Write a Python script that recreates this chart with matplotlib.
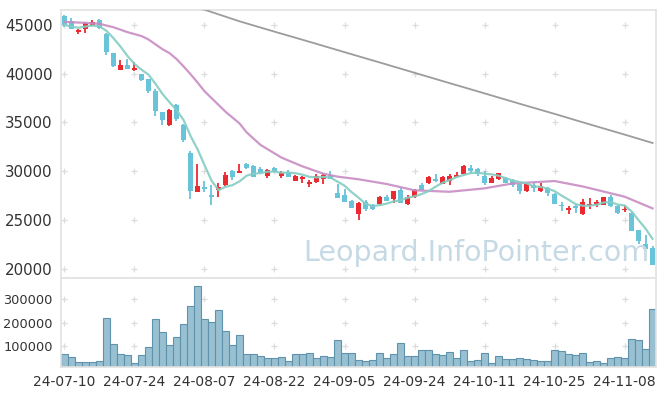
import numpy as np
import pandas as pd
import matplotlib
matplotlib.use('Agg')
import matplotlib.pyplot as plt

dateLabels = ['24-07-10', '24-07-24', '24-08-07', '24-08-22', '24-09-05',
              '24-09-24', '24-10-11', '24-10-25', '24-11-08']

opens = [45900, 45400, 44300, 44600, 44950, 45500, 44100, 42100, 40400, 40900,
         40350, 40000, 39450, 38250, 36050, 34700, 36800, 34750, 31900, 27900,
         28400, 27550, 28100, 28600, 30050, 29850, 30750, 30550, 30250, 29550,
         30300, 29550, 29900, 29050, 29200, 28650, 28900, 29200, 29600, 27800,
         27550, 26950, 25650, 26900, 26550, 26650, 27400, 27150, 28100, 26650,
         27350, 28600, 28850, 29200, 28700, 29050, 29450, 29750, 30300, 30200,
         29550, 28800, 29200, 29350, 29000, 28650, 28000, 28600, 28000, 28250,
         27700, 26550, 26000, 26400, 25650, 26500, 26550, 26550, 27400, 26400,
         26050, 25750, 24000, 22600, 22150]
highs = [46000, 45700, 44600, 45250, 45500, 45550, 44200, 42100, 41400, 41500,
         41200, 40000, 39500, 38400, 36100, 36400, 36900, 34800, 32100, 30750,
         29000, 28550, 28800, 29950, 30100, 30700, 30800, 30600, 30400, 30200,
         30400, 30050, 30100, 29600, 29500, 29150, 29700, 29800, 30050, 28700,
         28200, 27100, 26850, 27050, 26600, 27500, 27550, 28000, 28250, 27550,
         28150, 28850, 29500, 29700, 29500, 29750, 29900, 30650, 30650, 30300,
         30050, 29550, 29850, 29450, 29200, 28700, 28750, 28750, 28750, 28400,
         27750, 26850, 26400, 26650, 27150, 27250, 27050, 27400, 27550, 26550,
         26550, 25800, 24000, 23450, 22350]
lows = [44800, 44600, 44050, 44200, 44900, 44550, 41900, 40700, 40350, 40450,
        40300, 39200, 38000, 35700, 34750, 34650, 35100, 32950, 27200, 27850,
        27850, 26550, 27400, 28500, 29100, 29800, 30200, 29400, 29800, 29300,
        29950, 29300, 29400, 29000, 28750, 28350, 28850, 28650, 29200, 27250,
        26850, 26200, 25000, 25950, 26000, 26500, 26950, 26750, 26700, 26550,
        27250, 28050, 28650, 28950, 28650, 28600, 29400, 29700, 29850, 29550,
        28600, 28750, 29150, 28750, 28350, 27700, 27850, 27850, 27850, 27500,
        26600, 25950, 25600, 25750, 25550, 26150, 26350, 26500, 26350, 25650,
        25850, 23850, 22600, 22000, 20400]
closes = [45000, 44600, 44500, 45200, 45300, 44650, 42250, 40750, 40900, 40500,
          40550, 39300, 38250, 36200, 35300, 36300, 35350, 33200, 28000, 28500,
          28150, 27400, 28350, 29600, 29400, 30050, 30300, 29450, 29850, 30150,
          30050, 29800, 29450, 29550, 29400, 28950, 29550, 29650, 29250, 27300,
          26900, 26250, 26800, 26150, 26100, 27350, 27000, 27950, 26750, 27400,
          28100, 28100, 29450, 29050, 29400, 29500, 29600, 30500, 30050, 29750,
          28800, 29350, 29800, 28800, 28550, 28000, 28700, 28250, 28500, 27750,
          26650, 26400, 26200, 26200, 26900, 26650, 26900, 27350, 26400, 25700,
          26150, 23900, 22850, 22050, 20450]
volumes = [64500, 51700, 30300, 30300, 30300, 35900, 218000, 107000, 64500, 60200,
           26000, 60200, 94400, 214000, 158000, 103000, 137000, 193000, 270000, 355000,
           214000, 201000, 252000, 163000, 103000, 146000, 64500, 64500, 56000, 47400,
           47400, 51700, 34600, 64500, 64500, 68800, 47400, 56000, 51700, 124000,
           68800, 68800, 38800, 34600, 38800, 68800, 47400, 64500, 111000, 56000,
           56000, 81600, 81600, 64500, 60200, 73000, 47400, 81600, 34600, 38800,
           68800, 26000, 56000, 43200, 43200, 47400, 43200, 38800, 34600, 34600,
           81600, 77300, 64500, 60200, 68800, 30300, 34600, 26000, 47400, 51700,
           47400, 129000, 124000, 86000, 257000]

# 20-day average (it starts with data before 07-10)
ma20Index = [0, 3, 5, 7, 9, 11, 12, 13, 14, 15, 16, 17, 18, 19, 20, 21, 23,
             25, 26, 28, 31, 34, 37, 39, 42, 46, 50, 55, 60, 64, 70, 74, 80, 84]
ma20Values = [45300, 45200, 45100, 44750, 44250, 43850, 43500, 43000, 42500,
              42100, 41500, 40750, 39950, 39100, 38200, 37500, 36100, 34900,
              34000, 32700, 31400, 30500, 29750, 29450, 29180, 28700, 28050,
              27900, 28250, 28750, 29000, 28450, 27400, 26200]

# long moving average at a few candles
longMaIndex = [17, 20, 25, 30, 35, 40, 45, 50, 55, 60, 65, 70, 75, 80, 84]
longMaValues = [46850, 46550, 45360, 44300, 43260, 42200, 41150, 40090, 39030,
                37980, 36920, 35880, 34810, 33760, 32900]

UP_COLOR = '#ea2a30'
DOWN_COLOR = '#69c3d9'
GRID_COLOR = '#dcdcdc'
TEXT_COLOR = '#333333'


def styleAxis(ax, labelSize):
    for side in ['left', 'right', 'top', 'bottom']:
        ax.spines[side].set_color('#e2e2e2')
        ax.spines[side].set_linewidth(1.2)
    ax.tick_params(length=0, colors=TEXT_COLOR, labelsize=10)
    ax.tick_params(axis='y', pad=6, labelsize=labelSize)


def drawPlusGrid(ax, yValues):
    tickX = np.arange(0, len(closes), 10)
    gx, gy = np.meshgrid(tickX, yValues)
    ax.scatter(gx.ravel(), gy.ravel(), marker='+', s=20, color=GRID_COLOR,
               linewidths=0.9, zorder=1)


def drawCandles(ax):
    x = np.arange(len(closes))
    o = np.array(opens)
    c = np.array(closes)
    colors = [UP_COLOR if cc >= oo else DOWN_COLOR for oo, cc in zip(o, c)]
    ax.vlines(x, lows, highs, colors=colors, lw=1.3, zorder=2)
    bottoms = np.minimum(o, c)
    heights = np.maximum(np.abs(c - o), 90)
    ax.bar(x, heights, bottom=bottoms, width=0.72, color=colors, zorder=3)


def drawAverages(ax):
    x = np.arange(len(closes))
    ma5 = pd.Series(closes).rolling(5, min_periods=1).mean()
    ax.plot(longMaIndex, longMaValues, color='#9c9c9c', lw=1.3, zorder=4)
    ax.plot(ma20Index, ma20Values, color='#c88cc3', lw=1.6, alpha=0.9, zorder=4)
    ax.plot(x, ma5, color='#85cdc2', lw=1.6, alpha=0.9, zorder=4)


fig = plt.figure(figsize=(6.65, 3.96), dpi=100)
axPrice = fig.add_axes([0.0917, 0.298, 0.8948, 0.6773])
axVolume = fig.add_axes([0.0917, 0.0732, 0.8948, 0.2248], sharex=axPrice)

priceTicks = [20000, 25000, 30000, 35000, 40000, 45000]
drawPlusGrid(axPrice, priceTicks)
drawCandles(axPrice)
drawAverages(axPrice)
axPrice.set_ylim(19070, 46540)
axPrice.set_yticks(priceTicks)
axPrice.set_yticklabels([str(t) for t in priceTicks])
axPrice.tick_params(axis='x', labelbottom=False)
styleAxis(axPrice, 10.8)

volumeTicks = [100000, 200000, 300000]
drawPlusGrid(axVolume, volumeTicks)
axVolume.bar(np.arange(len(volumes)), volumes, width=1.0, color='#98c0d1',
             edgecolor='#5f93ad', linewidth=0.8, zorder=2)
axVolume.set_ylim(10000, 391000)
axVolume.set_yticks(volumeTicks)
axVolume.set_yticklabels([str(t) for t in volumeTicks])
axVolume.set_xlim(-0.5, len(closes) - 0.5)
axVolume.set_xticks(np.arange(0, len(closes), 10))
axVolume.set_xticklabels(dateLabels)
styleAxis(axVolume, 9.3)
axVolume.tick_params(axis='x', pad=6)

fig.text(0.716, 0.36, 'Leopard.InfoPointer.com', color='#c6dae5',
         fontsize=20.5, ha='center', va='center', zorder=10)

fig.savefig('out.png', dpi=100)
